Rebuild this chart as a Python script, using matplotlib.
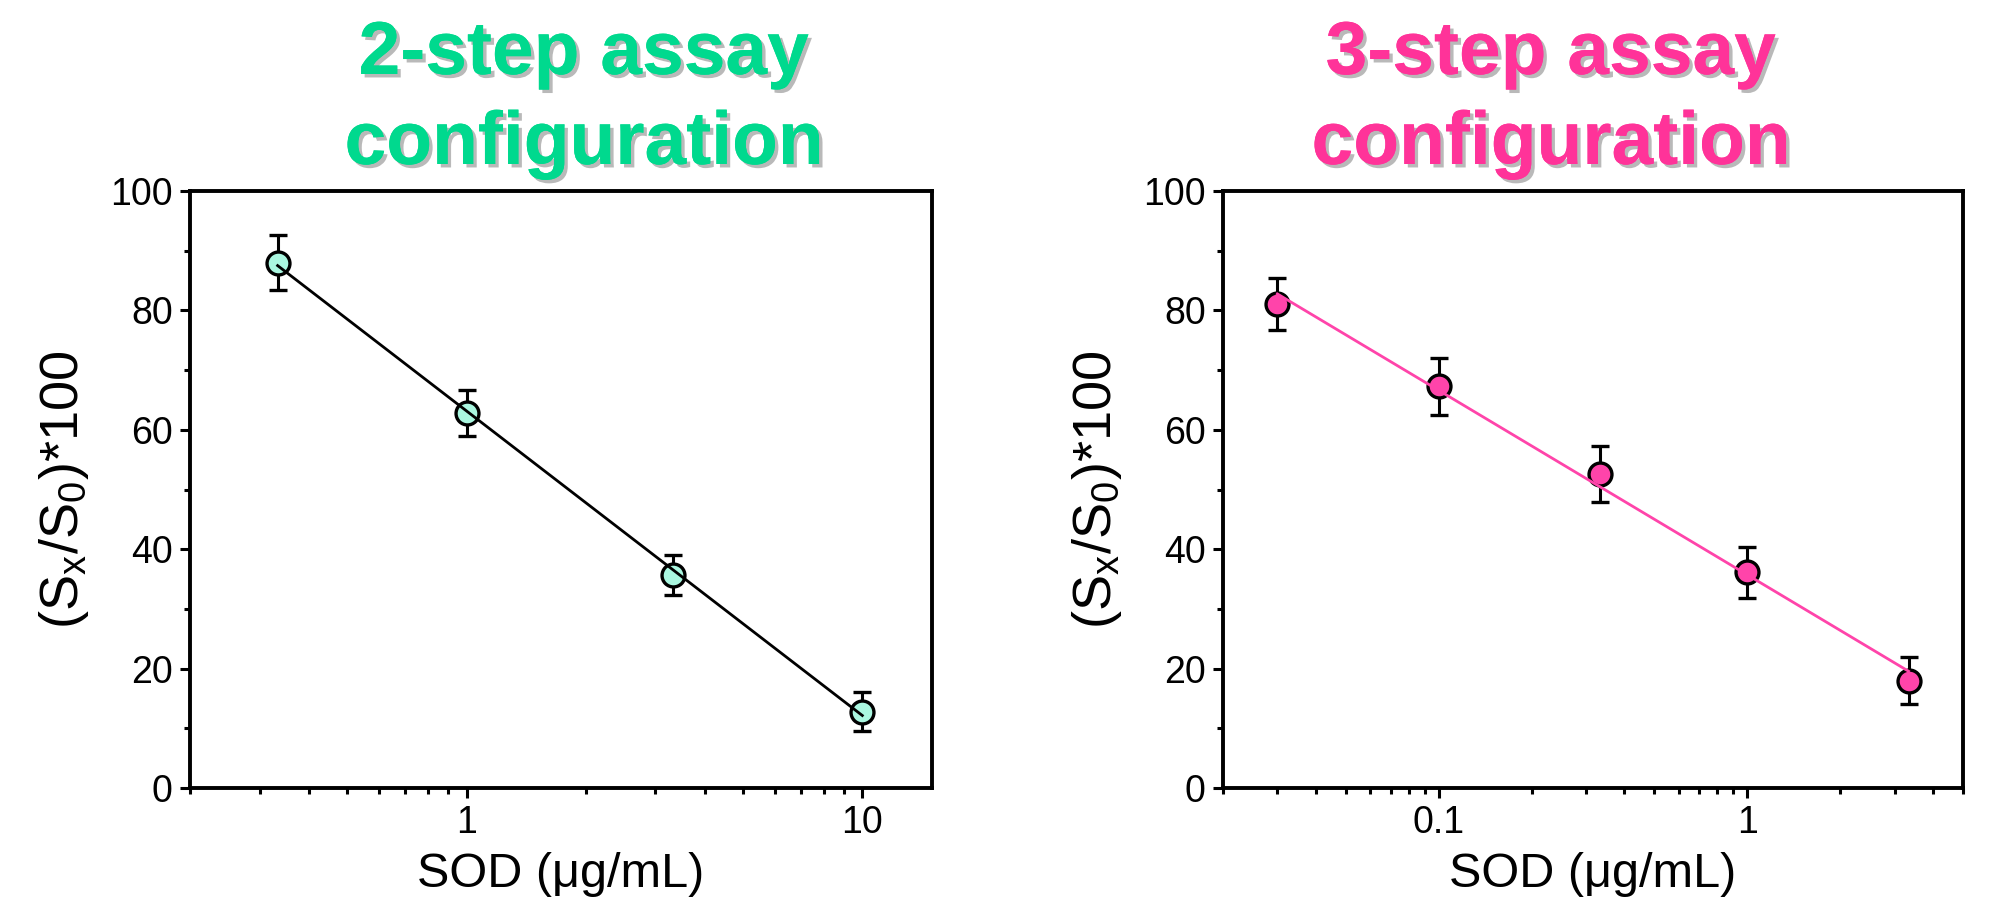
import numpy as np
import matplotlib
matplotlib.use("Agg")
import matplotlib.pyplot as plt
import matplotlib.patheffects as pe
from matplotlib.ticker import MultipleLocator, FixedLocator, FixedFormatter

plt.rcParams["font.family"] = ["Liberation Sans", "DejaVu Sans"]

# ── data ─────────────────────────────────────────────
sod_2step = [0.333, 1.0, 3.33, 10.0]
signal_2step = [88.0, 62.8, 35.7, 12.8]
err_2step = [4.6, 3.85, 3.3, 3.2]

sod_3step = [0.03, 0.1, 0.333, 1.0, 3.33]
signal_3step = [81.1, 67.3, 52.6, 36.1, 18.0]
err_3step = [4.3, 4.8, 4.65, 4.2, 3.9]

titles = ["2-step assay", "3-step assay"]
title_colors = ["#00d98e", "#ff3399"]
fill_colors = ["#aaf7e0", "#ff44aa"]
line_colors = ["black", "#ff44aa"]
xlims = [(0.2, 15), (0.02, 5)]
xticks = [[1, 10], [0.1, 1]]
xticklabels = [["1", "10"], ["0.1", "1"]]

W, H = 1991, 919
fig = plt.figure(figsize=(W / 100, H / 100), dpi=100)

# axes boxes in pixels: left, right, top, bottom
boxes = [(190, 932, 191, 788), (1223, 1963, 191, 788)]
title_x = [584, 1551]

datasets = [(sod_2step, signal_2step, err_2step),
            (sod_3step, signal_3step, err_3step)]

for i, (x, y, e) in enumerate(datasets):
    l, r, t, b = boxes[i]
    ax = fig.add_axes([l / W, 1 - b / H, (r - l) / W, (b - t) / H])
    ax.set_xscale("log")

    ax.errorbar(x, y, yerr=e, fmt="o", ms=16.5, mfc=fill_colors[i], mec="black",
                mew=2.4, ecolor="black", elinewidth=2.2, capsize=6.5, capthick=2.2,
                zorder=3)

    # linear fit in log-x
    lx = np.log10(x)
    k, c = np.polyfit(lx, y, 1)
    xf = np.array([x[0], x[-1]])
    ax.plot(xf, k * np.log10(xf) + c, color=line_colors[i], lw=2, zorder=4)

    ax.set_xlim(*xlims[i])
    ax.set_ylim(0, 100)
    ax.yaxis.set_major_locator(MultipleLocator(20))
    ax.yaxis.set_minor_locator(MultipleLocator(10))
    ax.xaxis.set_major_locator(FixedLocator(xticks[i]))
    ax.xaxis.set_major_formatter(FixedFormatter(xticklabels[i]))

    for s in ax.spines.values():
        s.set_linewidth(2.8)
    ax.tick_params(which="major", length=7.5, width=2.2, labelsize=27, pad=5)
    ax.tick_params(which="minor", length=4.5, width=2.2)
    ax.tick_params(which="both", top=False, right=False, direction="out")

    ax.set_xlabel("SOD (μg/mL)", fontsize=35, labelpad=8)
    ax.set_ylabel(r"(S$_\mathregular{x}$/S$_\mathregular{0}$)*100", fontsize=39, labelpad=14)

    shadow = [pe.withSimplePatchShadow(offset=(2.5, -2.5), shadow_rgbFace="gray", alpha=0.55),
              pe.Normal()]
    fig.text(title_x[i] / W, 1 - 74 / H, titles[i], ha="center", va="baseline",
             fontsize=54, fontweight="bold", color=title_colors[i], path_effects=shadow)
    fig.text(title_x[i] / W, 1 - 164 / H, "configuration", ha="center", va="baseline",
             fontsize=54, fontweight="bold", color=title_colors[i], path_effects=shadow)

fig.savefig("out.png", dpi=100)
